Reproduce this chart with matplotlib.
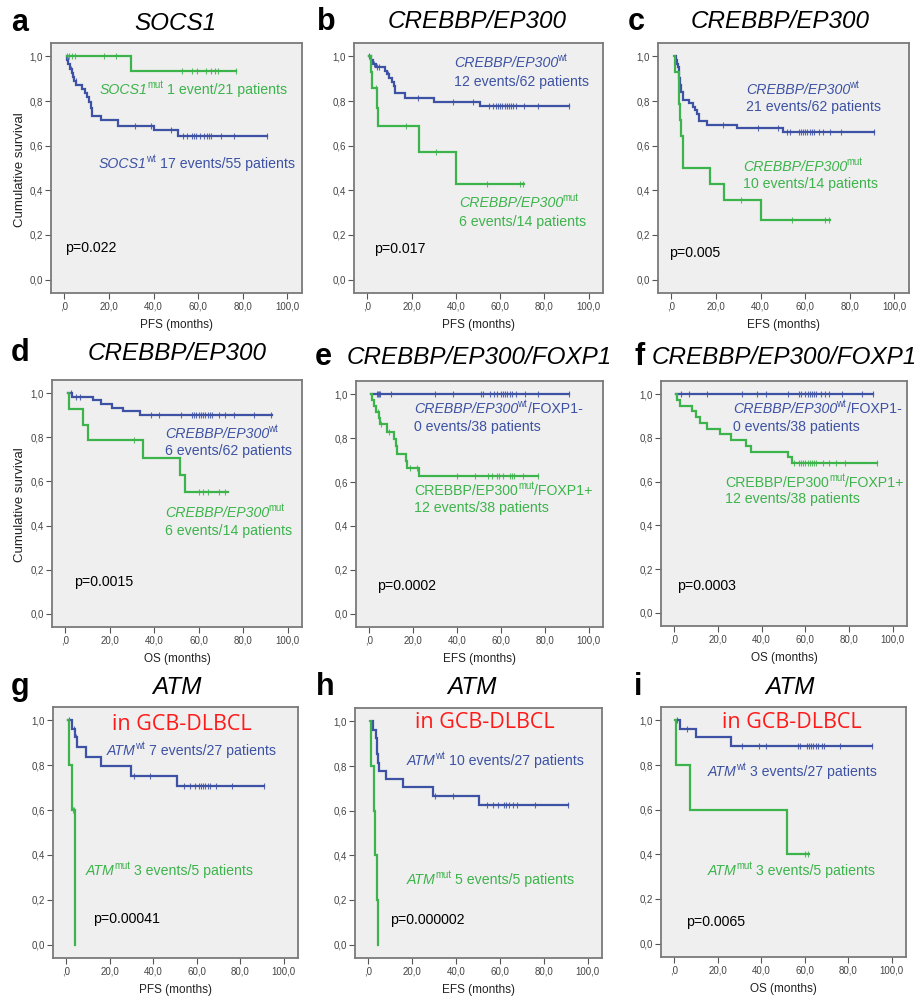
import numpy as np
import matplotlib
matplotlib.use("Agg")
import matplotlib.pyplot as plt

plt.rcParams['font.family'] = ['Liberation Sans', 'DejaVu Sans']

BLUE = '#3d52a4'
GREEN = '#3cb44b'

# ---------------- data ----------------
# each curve: start time, step times, survival after each step, end time, censor times
a_mut_start, a_mut_t, a_mut_s, a_mut_end = 1.0, [30], [0.933], 77
a_mut_c = [1, 2.2, 3.4, 4.7, 17.8, 23.3, 52.9, 57.3, 59.6, 63.3, 65.5, 67.7, 68.9, 77]
a_wt_start = 1.0
a_wt_t = [1.2, 1.8, 2.5, 3.2, 3.8, 4.5, 5.2, 8.1, 9.2, 10.3, 11.2, 12.1, 12.6, 16.3, 24.0, 40.0, 50.8]
a_wt_s = [0.982, 0.964, 0.945, 0.927, 0.909, 0.89, 0.871, 0.853, 0.834, 0.816, 0.797, 0.77, 0.735, 0.713, 0.69, 0.668, 0.645]
a_wt_end = 91
a_wt_c = [1.5, 3, 4, 5, 31.5, 39, 48, 53, 55, 57, 58, 59, 60.7, 62.5, 64, 65, 65.5, 70.4, 76, 91]

b_wt_start = 1.0
b_wt_t = [1.5, 2.5, 4, 8, 9, 10, 11, 12, 12.7, 17, 30, 51]
b_wt_s = [0.984, 0.968, 0.952, 0.936, 0.92, 0.903, 0.887, 0.868, 0.835, 0.815, 0.797, 0.778]
b_wt_end = 91
b_wt_c = [1, 3, 4.5, 5.5, 9.5, 23, 38.8, 47.9, 55, 57, 58, 59, 60, 61, 62, 63, 64, 65, 66, 67, 71, 77, 91]
b_mut_start = 1.0
b_mut_t = [1.5, 2.3, 4.5, 4.8, 23.5, 40]
b_mut_s = [0.929, 0.857, 0.771, 0.686, 0.572, 0.429]
b_mut_end = 71
b_mut_c = [4, 17.4, 31, 54, 69, 70.5]

c_wt_start = 2.0
c_wt_t = [2.2, 2.6, 3.0, 3.3, 3.6, 4.0, 4.5, 5.0, 8.0, 9.5, 10.5, 11.5, 12.5, 16.0, 29.5, 50.2]
c_wt_s = [0.984, 0.968, 0.952, 0.935, 0.903, 0.871, 0.839, 0.806, 0.79, 0.774, 0.758, 0.742, 0.71, 0.694, 0.677, 0.66]
c_wt_end = 91
c_wt_c = [23, 39, 48, 52, 53, 57, 58, 59, 60, 61, 62, 63, 64, 66, 68, 71, 76, 91]
c_mut_start = 1.0
c_mut_t = [1.5, 3.3, 3.6, 4.0, 4.5, 5.0, 5.3, 17.5, 23.5, 40]
c_mut_s = [0.929, 0.857, 0.786, 0.714, 0.643, 0.571, 0.5, 0.429, 0.357, 0.268]
c_mut_end = 71
c_mut_c = [31, 54, 69, 70.5]

d_wt_start = 1.0
d_wt_t = [3, 12.5, 16, 21, 26, 33.5]
d_wt_s = [0.984, 0.968, 0.952, 0.935, 0.919, 0.902]
d_wt_end = 93
d_wt_c = [2.7, 4.9, 6.4, 38.6, 42, 52, 57, 58, 59, 60, 61, 62, 63, 64, 65, 66, 69, 72, 76, 85, 92.5]
d_mut_start = 1.0
d_mut_t = [1.5, 8, 10, 35, 51.5, 54]
d_mut_s = [0.929, 0.857, 0.786, 0.707, 0.629, 0.551]
d_mut_end = 73
d_mut_c = [31, 60, 62, 64, 69, 72]

e_wt_start, e_wt_t, e_wt_s, e_wt_end = 1.0, [], [], 91
e_wt_c = [3.5, 4, 4.5, 5, 10, 30, 38, 51, 52, 55, 57, 58, 60, 61, 62, 63, 64, 65, 67, 71, 77, 91]
e_mut_start = 1.0
e_mut_t = [1.5, 2.3, 3.0, 4.3, 5.0, 8.0, 11.3, 12.0, 12.7, 16.6, 17.3, 22.9]
e_mut_s = [0.974, 0.947, 0.92, 0.893, 0.865, 0.83, 0.797, 0.762, 0.728, 0.695, 0.663, 0.626]
e_mut_end = 77
e_mut_c = [4, 5.5, 9, 18.5, 22, 40, 48, 54, 56, 58, 59, 61, 64, 65, 66, 70, 77]

f_wt_start, f_wt_t, f_wt_s, f_wt_end = 1.0, [], [], 91
f_wt_c = [3, 7, 15, 31, 38, 42, 52, 57, 58, 60, 61, 62, 63, 64, 65, 67, 69, 71, 77, 86, 91]
f_mut_start = 1.0
f_mut_t = [1.5, 2.5, 8, 10, 12, 15, 21, 26, 33, 35, 52, 54]
f_mut_s = [0.974, 0.947, 0.921, 0.895, 0.868, 0.842, 0.816, 0.789, 0.763, 0.737, 0.711, 0.684]
f_mut_end = 93
f_mut_c = [55, 57, 58, 59, 60, 61, 62, 63, 64, 65, 68, 71, 74, 78, 93]

g_wt_start = 1.0
g_wt_t = [2.5, 4, 5, 9, 16, 30, 51]
g_wt_s = [0.963, 0.926, 0.881, 0.836, 0.795, 0.751, 0.707]
g_wt_end = 91
g_wt_c = [1.5, 3.5, 4.5, 31, 38.5, 54, 57, 59, 61, 62, 63, 64, 65, 66, 69, 76, 91]
g_mut_start, g_mut_t, g_mut_s, g_mut_end = 1.0, [1.5, 2.5, 4], [0.8, 0.6, 0.0], 4
g_mut_c = [3, 3.5]

h_wt_start = 2.0
h_wt_t = [2.3, 3.5, 3.8, 4.1, 4.7, 5.0, 8.3, 16, 29.7, 50.5]
h_wt_s = [0.963, 0.926, 0.889, 0.852, 0.815, 0.778, 0.741, 0.704, 0.667, 0.626]
h_wt_end = 91
h_wt_c = [30.5, 38.5, 54, 57, 59, 62, 63, 64, 66, 68, 76, 91]
h_mut_start, h_mut_t, h_mut_s, h_mut_end = 1.0, [1.5, 2.5, 3.0, 4.0, 4.5], [0.8, 0.6, 0.4, 0.2, 0.0], 4.5
h_mut_c = []

i_wt_start = 1.0
i_wt_t = [2.5, 10, 26]
i_wt_s = [0.963, 0.926, 0.885]
i_wt_end = 91
i_wt_c = [1.5, 6, 31, 39, 42, 57, 58, 61, 62, 63, 64, 65, 66, 68, 69, 76, 91]
i_mut_start, i_mut_t, i_mut_s, i_mut_end = 0.5, [1, 7.5, 51.8], [0.8, 0.6, 0.4], 62
i_mut_c = [60, 61.5]

x_ticks = [0, 20, 40, 60, 80, 100]
x_ticklabels = [',0', '20,0', '40,0', '60,0', '80,0', '100,0']
y_ticks = [0, 0.2, 0.4, 0.6, 0.8, 1.0]
y_ticklabels = ['0,0', '0,2', '0,4', '0,6', '0,8', '1,0']

W, H = 922, 996
fig = plt.figure(figsize=(W / 100, H / 100), dpi=100)
fig.patch.set_facecolor('white')
renderer = fig.canvas.get_renderer()


def fx(x):
    return x / W


def fy(y):
    return 1 - y / H


def make_ax(box):
    l, t, r, b = box
    ax = fig.add_axes([fx(l), fy(b), (r - l) / W, (b - t) / H])
    ax.set_facecolor('#efefef')
    ax.set_xlim(-6, 106.5)
    ax.set_ylim(-0.06, 1.06)
    ax.set_xticks(x_ticks)
    ax.set_xticklabels(x_ticklabels)
    ax.set_yticks(y_ticks)
    ax.set_yticklabels(y_ticklabels)
    ax.tick_params(direction='out', length=4, width=0.8, color='#555555',
                   labelsize=7, labelcolor='#444444', pad=2)
    for s in ax.spines.values():
        s.set_color('#7a7a7a')
        s.set_linewidth(1.3)
    return ax


def km(ax, start, times, levels, end, censors, color):
    xs = [start] + list(times) + [end]
    ys = [1.0] + list(levels) + [levels[-1] if levels else 1.0]
    ax.step(xs, ys, where='post', color=color, lw=1.6, solid_joinstyle='miter')
    if censors:
        tt = np.array(times)
        ll = np.array([1.0] + list(levels))
        idx = np.searchsorted(tt, np.array(censors), side='right')
        ax.plot(censors, ll[idx], ls='none', marker='|', ms=5, mew=0.8,
                color=color, alpha=0.85)


def ftext(x, y, s, **kw):
    return fig.text(fx(x), fy(y), s, **kw)


FS = 10.2


def rich(x, y, pieces, color, fs=FS):
    """pieces: list of (text, style) with style in 'rm', 'it', 'sup', 'sp'."""
    cur = x
    em = fs * 100 / 72
    prev = None
    for s, st in pieces:
        if st == 'sp':
            cur += 0.278 * em
            prev = st
            continue
        if st == 'sup':
            off = -0.8 if prev == 'it' else 0.3
            t = ftext(cur + off, y - 0.36 * em, s, fontsize=fs * 0.68, ha='left',
                      va='center', color=color)
            bb = t.get_window_extent(renderer)
            cur += bb.width + off + 0.3
        else:
            t = ftext(cur, y, s, fontsize=fs, ha='left', va='center', color=color,
                      fontstyle='italic' if st == 'it' else 'normal')
            bb = t.get_window_extent(renderer)
            cur += bb.width
        prev = st


panels = [
    ('a', (51, 43, 302, 293), 'PFS (months)',
     [(a_wt_start, a_wt_t, a_wt_s, a_wt_end, a_wt_c, BLUE),
      (a_mut_start, a_mut_t, a_mut_s, a_mut_end, a_mut_c, GREEN)]),
    ('b', (354, 43, 603, 293), 'PFS (months)',
     [(b_wt_start, b_wt_t, b_wt_s, b_wt_end, b_wt_c, BLUE),
      (b_mut_start, b_mut_t, b_mut_s, b_mut_end, b_mut_c, GREEN)]),
    ('c', (658, 43, 909, 293), 'EFS (months)',
     [(c_wt_start, c_wt_t, c_wt_s, c_wt_end, c_wt_c, BLUE),
      (c_mut_start, c_mut_t, c_mut_s, c_mut_end, c_mut_c, GREEN)]),
    ('d', (52, 380, 302, 627), 'OS (months)',
     [(d_wt_start, d_wt_t, d_wt_s, d_wt_end, d_wt_c, BLUE),
      (d_mut_start, d_mut_t, d_mut_s, d_mut_end, d_mut_c, GREEN)]),
    ('e', (356, 381, 603, 627), 'EFS (months)',
     [(e_wt_start, e_wt_t, e_wt_s, e_wt_end, e_wt_c, BLUE),
      (e_mut_start, e_mut_t, e_mut_s, e_mut_end, e_mut_c, GREEN)]),
    ('f', (661, 381, 907, 626), 'OS (months)',
     [(f_wt_start, f_wt_t, f_wt_s, f_wt_end, f_wt_c, BLUE),
      (f_mut_start, f_mut_t, f_mut_s, f_mut_end, f_mut_c, GREEN)]),
    ('g', (53, 707, 298, 958), 'PFS (months)',
     [(g_wt_start, g_wt_t, g_wt_s, g_wt_end, g_wt_c, BLUE),
      (g_mut_start, g_mut_t, g_mut_s, g_mut_end, g_mut_c, GREEN)]),
    ('h', (355, 708, 602, 958), 'EFS (months)',
     [(h_wt_start, h_wt_t, h_wt_s, h_wt_end, h_wt_c, BLUE),
      (h_mut_start, h_mut_t, h_mut_s, h_mut_end, h_mut_c, GREEN)]),
    ('i', (661, 707, 906, 957), 'OS (months)',
     [(i_wt_start, i_wt_t, i_wt_s, i_wt_end, i_wt_c, BLUE),
      (i_mut_start, i_mut_t, i_mut_s, i_mut_end, i_mut_c, GREEN)]),
]

for letter, box, xlabel, curves in panels:
    ax = make_ax(box)
    for c in curves:
        km(ax, *c)
    l, t, r, b = box
    ftext((l + r) / 2, b + 32, xlabel, ha='center', va='center', fontsize=8.5, color='#222222')

# ---- letters and titles ----
LET = dict(fontsize=22, fontweight='bold', ha='left', va='center', color='black')
TIT = dict(fontsize=17.5, fontstyle='italic', va='center', color='black')
ftext(11, 23, 'a', **LET); ftext(175, 23, 'SOCS1', ha='center', **TIT)
ftext(317, 22, 'b', **LET); ftext(477, 22, 'CREBBP/EP300', ha='center', **TIT)
ftext(628, 22, 'c', **LET); ftext(780, 22, 'CREBBP/EP300', ha='center', **TIT)
ftext(11, 353, 'd', **LET); ftext(177, 353, 'CREBBP/EP300', ha='center', **TIT)
ftext(315, 357, 'e', **LET); ftext(347, 357, 'CREBBP/EP300/FOXP1', ha='left', **TIT)
ftext(634, 357, 'f', **LET); ftext(652, 357, 'CREBBP/EP300/FOXP1', ha='left', **TIT)
ftext(11, 687, 'g', **LET); ftext(177, 687, 'ATM', ha='center', **TIT)
ftext(316, 687, 'h', **LET); ftext(472, 687, 'ATM', ha='center', **TIT)
ftext(634, 687, 'i', **LET); ftext(790, 687, 'ATM', ha='center', **TIT)

# ---- y labels ----
ftext(20, 170, 'Cumulative survival', rotation=90, ha='center', va='center', fontsize=9.5, color='#222222')
ftext(20, 505, 'Cumulative survival', rotation=90, ha='center', va='center', fontsize=9.5, color='#222222')

# ---- annotations ----
SP = ('', 'sp')
rich(100, 90, [('SOCS1', 'it'), ('mut', 'sup'), SP, ('1 event/21 patients', 'rm')], GREEN)
rich(99, 164, [('SOCS1', 'it'), ('wt', 'sup'), SP, ('17 events/55 patients', 'rm')], BLUE)

rich(454, 63, [('CREBBP/EP300', 'it'), ('wt', 'sup')], BLUE)
rich(454, 82, [('12 events/62 patients', 'rm')], BLUE)
rich(459, 203, [('CREBBP/EP300', 'it'), ('mut', 'sup')], GREEN)
rich(459, 222, [('6 events/14 patients', 'rm')], GREEN)

rich(746, 90, [('CREBBP/EP300', 'it'), ('wt', 'sup')], BLUE)
rich(746, 107, [('21 events/62 patients', 'rm')], BLUE)
rich(743, 167, [('CREBBP/EP300', 'it'), ('mut', 'sup')], GREEN)
rich(743, 184, [('10 events/14 patients', 'rm')], GREEN)

rich(165, 434, [('CREBBP/EP300', 'it'), ('wt', 'sup')], BLUE)
rich(165, 451, [('6 events/62 patients', 'rm')], BLUE)
rich(165, 513, [('CREBBP/EP300', 'it'), ('mut', 'sup')], GREEN)
rich(165, 531, [('6 events/14 patients', 'rm')], GREEN)

rich(414, 409, [('CREBBP/EP300', 'it'), ('wt', 'sup'), ('/FOXP1-', 'rm')], BLUE)
rich(414, 427, [('0 events/38 patients', 'rm')], BLUE)
rich(414, 491, [('CREBBP/EP300', 'rm'), ('mut', 'sup'), ('/FOXP1+', 'rm')], GREEN)
rich(414, 508, [('12 events/38 patients', 'rm')], GREEN)

rich(733, 409, [('CREBBP/EP300', 'it'), ('wt', 'sup'), ('/FOXP1-', 'rm')], BLUE)
rich(733, 427, [('0 events/38 patients', 'rm')], BLUE)
rich(725, 483, [('CREBBP/EP300', 'rm'), ('mut', 'sup'), ('/FOXP1+', 'rm')], GREEN)
rich(725, 499, [('12 events/38 patients', 'rm')], GREEN)

rich(107, 751, [('ATM', 'it'), ('wt', 'sup'), SP, ('7 events/27 patients', 'rm')], BLUE)
rich(86, 871, [('ATM', 'it'), ('mut', 'sup'), SP, ('3 events/5 patients', 'rm')], GREEN)
rich(407, 761, [('ATM', 'it'), ('wt', 'sup'), SP, ('10 events/27 patients', 'rm')], BLUE)
rich(407, 880, [('ATM', 'it'), ('mut', 'sup'), SP, ('5 events/5 patients', 'rm')], GREEN)
rich(708, 772, [('ATM', 'it'), ('wt', 'sup'), SP, ('3 events/27 patients', 'rm')], BLUE)
rich(708, 871, [('ATM', 'it'), ('mut', 'sup'), SP, ('3 events/5 patients', 'rm')], GREEN)

# ---- p values ----
for x, y, s in [(65, 248, 'p=0.022'), (374, 249, 'p=0.017'), (669, 253, 'p=0.005'),
                (74, 582, 'p=0.0015'), (377, 586, 'p=0.0002'), (677, 586, 'p=0.0003'),
                (93, 919, 'p=0.00041'), (390, 920, 'p=0.000002'), (686, 922, 'p=0.0065')]:
    ftext(x, y, s, ha='left', va='center', fontsize=FS, color='black')

# ---- subgroup note ----
for x, y in [(112, 725), (415, 722), (722, 722)]:
    ftext(x, y, 'in GCB-DLBCL', ha='left', va='center', fontsize=15.5,
          color='#ff1a1a', family=['Open Sans', 'DejaVu Sans'])

fig.savefig('out.png', dpi=100)
